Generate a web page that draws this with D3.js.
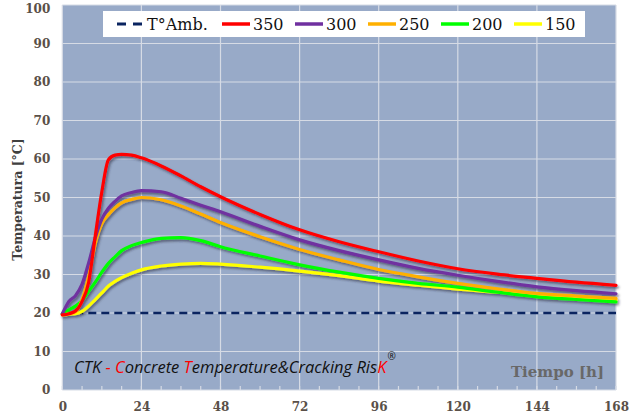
<!DOCTYPE html>
<html>
<head>
<meta charset="utf-8">
<script src="https://cdn.jsdelivr.net/npm/d3@7"></script>
<style>
  html, body { margin: 0; padding: 0; background: #ffffff; }
  svg { display: block; }
</style>
</head>
<body>
<svg id="chart" width="640" height="419"></svg>
<script>
// Time after casting, hours
const hours = [0, 1, 2, 4, 6, 8, 10, 12, 14, 16, 18, 21, 24, 30, 36, 42, 48, 60, 72, 84, 96, 108, 120, 132, 144, 156, 168];

// Core temperature (°C) for each cement content (kg/m³)
const t350 = [19.5, 19.6, 19.8, 20.5, 23.0, 28.0, 40.0, 51.5, 59.8, 61.0, 61.2, 61.0, 60.3, 58.2, 55.6, 52.8, 50.2, 45.6, 41.6, 38.5, 35.9, 33.5, 31.5, 30.1, 29.0, 28.0, 27.2];
const t300 = [19.8, 21.5, 23.0, 24.5, 27.5, 33.0, 39.5, 44.4, 47.2, 49.0, 50.4, 51.3, 51.8, 51.5, 49.8, 48.0, 46.3, 42.5, 39.0, 36.2, 33.8, 31.6, 29.8, 28.2, 26.8, 25.8, 25.0];
const t250 = [19.5, 19.6, 19.8, 20.3, 23.5, 29.5, 38.0, 43.2, 45.5, 47.3, 48.6, 49.5, 50.0, 49.4, 47.8, 45.7, 43.5, 39.8, 36.5, 33.8, 31.3, 29.4, 27.7, 26.3, 25.1, 24.4, 23.8];
const t200 = [19.8, 20.3, 20.8, 21.8, 23.2, 25.6, 28.0, 30.6, 32.9, 34.6, 36.2, 37.5, 38.3, 39.4, 39.6, 38.8, 37.2, 34.8, 32.5, 30.6, 29.0, 27.7, 26.7, 25.4, 24.2, 23.5, 22.9];
const t150 = [19.6, 19.6, 19.7, 19.8, 20.4, 21.8, 23.5, 25.2, 27.0, 28.2, 29.2, 30.3, 31.2, 32.2, 32.7, 32.9, 32.7, 31.9, 30.9, 29.7, 28.3, 27.2, 26.2, 25.4, 24.7, 24.0, 23.4];
const ambient = 20;

const seriesNames = ["350", "300", "250", "200", "150"];
const seriesValues = [t350, t300, t250, t200, t150];
const seriesColors = ["#ff0000", "#7030a0", "#ffb000", "#00ff00", "#ffff00"];

const xTicks = [0, 24, 48, 72, 96, 120, 144, 168];
const xMinorTicks = d3.range(0, 169, 6);
const yTicks = d3.range(0, 101, 10);

const svg = d3.select("#chart");

const x = d3.scaleLinear().domain([0, 168]).range([62.3, 616]);
const y = d3.scaleLinear().domain([0, 100]).range([390, 5]);

const defs = svg.append("defs");
const shadow = defs.append("filter").attr("id", "lineShadow")
  .attr("x", "-5%").attr("y", "-5%").attr("width", "110%").attr("height", "120%");
shadow.append("feDropShadow")
  .attr("dx", 1.5).attr("dy", 2).attr("stdDeviation", 1.2)
  .attr("flood-color", "#2a2a3a").attr("flood-opacity", 0.55);

// Plot area
svg.append("rect")
  .attr("x", x(0)).attr("y", y(100))
  .attr("width", x(168) - x(0)).attr("height", y(0) - y(100))
  .attr("fill", "#98aac8");

// Grid
const grid = svg.append("g").attr("stroke", "#d6dbe5").attr("stroke-width", 1.2);
grid.selectAll("line.h").data(yTicks).join("line").attr("class", "h")
  .attr("x1", x(0)).attr("x2", x(168))
  .attr("y1", d => y(d)).attr("y2", d => y(d));
grid.selectAll("line.v").data(xTicks).join("line").attr("class", "v")
  .attr("x1", d => x(d)).attr("x2", d => x(d))
  .attr("y1", y(0)).attr("y2", y(100));
grid.selectAll("line.m").data(xMinorTicks).join("line").attr("class", "m")
  .attr("x1", d => x(d)).attr("x2", d => x(d))
  .attr("y1", y(0)).attr("y2", y(0) - 4);

// Axes
const tickFont = "'DejaVu Serif', serif";
const xAxis = svg.append("g").attr("transform", `translate(0,${y(0)})`)
  .call(d3.axisBottom(x).tickValues(xTicks).tickSize(0).tickPadding(12).tickFormat(d3.format("d")));
const yAxis = svg.append("g").attr("transform", `translate(${x(0)},0)`)
  .call(d3.axisLeft(y).tickValues(yTicks).tickSize(0).tickPadding(12).tickFormat(d3.format("d")));
[xAxis, yAxis].forEach(a => {
  a.select(".domain").remove();
  a.selectAll("text")
    .attr("fill", "#5a5048")
    .style("font-family", tickFont)
    .style("font-size", "12px")
    .style("font-weight", "bold");
});
// keep the top label inside the page
yAxis.selectAll(".tick").filter(d => d === 100).select("text").attr("dy", "0.62em");

// Axis titles
svg.append("text")
  .attr("transform", `translate(22,${y(50) + 2}) rotate(-90)`)
  .attr("text-anchor", "middle")
  .attr("fill", "#404040")
  .style("font-family", tickFont).style("font-size", "12.5px").style("font-weight", "bold")
  .text("Temperatura [°C]");

svg.append("text")
  .attr("x", 604).attr("y", 377)
  .attr("text-anchor", "end")
  .attr("fill", "#686868")
  .style("font-family", tickFont).style("font-size", "15px").style("font-weight", "bold")
  .text("Tiempo [h]");

// Brand line
const brand = svg.append("text")
  .attr("x", 74).attr("y", 373)
  .style("font-family", "'Open Sans', sans-serif").style("font-size", "16.5px").style("font-style", "italic")
  .attr("fill", "#111111");
const brandParts = [
  ["CTK ", "#111111"], ["- ", "#ff0000"], ["C", "#ff0000"], ["oncrete ", "#111111"],
  ["T", "#ff0000"], ["emperature&Cracking Ris", "#111111"], ["K", "#ff0000"]
];
brandParts.forEach(([t, c]) => brand.append("tspan").attr("fill", c).text(t));
brand.append("tspan").attr("dy", -13).attr("dx", 1).style("font-size", "10px").attr("fill", "#111111").text("®");

// Ambient temperature
svg.append("line")
  .attr("x1", x(0)).attr("x2", x(168))
  .attr("y1", y(ambient)).attr("y2", y(ambient))
  .attr("stroke", "#0a2460").attr("stroke-width", 2.6).attr("stroke-dasharray", "8,5");

// Temperature curves
const line = d3.line()
  .x((d, i) => x(hours[i]))
  .y(d => y(d))
  .curve(d3.curveMonotoneX);

const curves = svg.append("g").attr("filter", "url(#lineShadow)");
const order = [4, 3, 2, 1, 0];
order.forEach(i => {
  curves.append("path")
    .attr("d", line(seriesValues[i]))
    .attr("fill", "none")
    .attr("stroke", seriesColors[i])
    .attr("stroke-width", 3.2)
    .attr("stroke-linejoin", "round")
    .attr("stroke-linecap", "round");
});

// Legend
const legend = svg.append("g");
legend.append("rect")
  .attr("x", 103).attr("y", 11).attr("width", 482).attr("height", 26)
  .attr("fill", "#ffffff");
const legendFont = { family: "'DejaVu Serif', serif", size: "16px" };
const ly = 24;
legend.append("line")
  .attr("x1", 117).attr("x2", 143).attr("y1", ly).attr("y2", ly)
  .attr("stroke", "#0a2460").attr("stroke-width", 3).attr("stroke-dasharray", "9,7");
legend.append("text")
  .attr("x", 147).attr("y", ly).attr("dy", "0.35em")
  .style("font-family", legendFont.family).style("font-size", legendFont.size)
  .attr("fill", "#111111").text("T°Amb.");
const legendX = [222, 295, 368, 441, 514];
seriesNames.forEach((name, i) => {
  const lx = legendX[i];
  legend.append("line")
    .attr("x1", lx).attr("x2", lx + 28).attr("y1", ly).attr("y2", ly)
    .attr("stroke", seriesColors[i]).attr("stroke-width", 3.5);
  legend.append("text")
    .attr("x", lx + 31).attr("y", ly).attr("dy", "0.35em")
    .style("font-family", legendFont.family).style("font-size", legendFont.size)
    .attr("fill", "#111111").text(name);
});
</script>
</body>
</html>
